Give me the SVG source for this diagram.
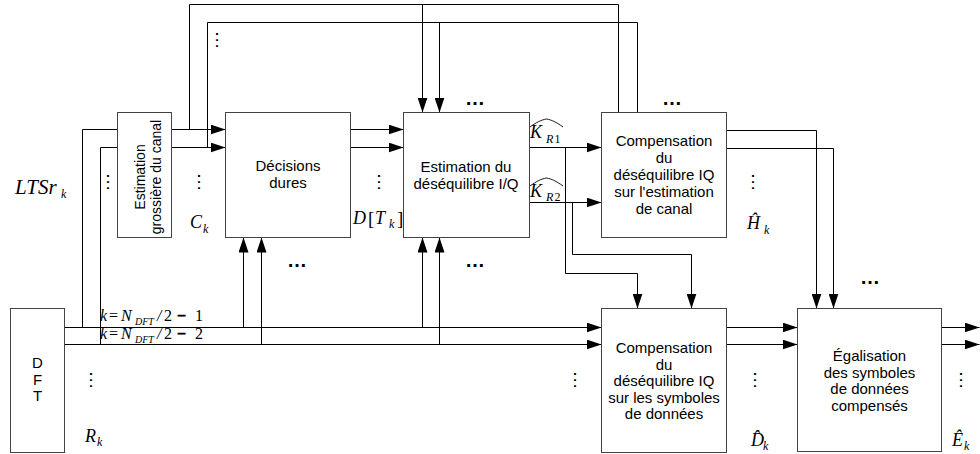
<svg xmlns="http://www.w3.org/2000/svg" width="980" height="454" viewBox="0 0 980 454">
<defs>
<style>
.box{fill:#fff;stroke:#444;stroke-width:1}
.ln{fill:none;stroke:#000;stroke-width:1}
.arr{marker-end:url(#ah)}
.t{font-family:"Liberation Sans",Arial,sans-serif;font-size:15px;fill:#000;text-anchor:middle}
.tr{font-family:"Liberation Sans",Arial,sans-serif;font-size:14px;fill:#000;text-anchor:middle}
.m{font-family:"Liberation Serif","Times New Roman",serif;font-style:italic;font-size:18px;fill:#000}
.ms{font-family:"Liberation Serif","Times New Roman",serif;font-style:italic;font-size:12px;fill:#000}
.mu{font-family:"Liberation Serif","Times New Roman",serif;font-style:normal;fill:#000}
.hd{font-family:"Liberation Sans",Arial,sans-serif;font-size:20px;font-weight:bold;fill:#000;text-anchor:middle}
.vd{font-family:"Liberation Sans",Arial,sans-serif;font-size:19px;fill:#000;text-anchor:middle}
.hat{fill:none;stroke:#000;stroke-width:0.9}
.minus{font-style:normal;font-weight:bold;stroke:#000;stroke-width:0.5}
</style>
<marker id="ah" markerWidth="15" markerHeight="10" refX="15" refY="5" orient="auto" markerUnits="userSpaceOnUse">
<path d="M0,0 L15,5 L0,10 z" fill="#000"/>
</marker>
</defs>
<rect width="980" height="454" fill="#fff"/>

<g id="connectors" transform="translate(0.5,0.5)">
<path class="ln" d="M618,112 V4 H189 V129"/>
<path class="ln arr" d="M422,4 V112"/>
<path class="ln" d="M637,112 V22 H207 V147"/>
<path class="ln arr" d="M439,22 V112"/>
<path class="ln arr" d="M171,129 H225"/>
<path class="ln arr" d="M171,147 H225"/>
<path class="ln" d="M82,327 V129 H117"/>
<path class="ln" d="M100,344 V147 H117"/>
<path class="ln arr" d="M64,327 H601"/>
<path class="ln arr" d="M64,344 H601"/>
<path class="ln arr" d="M243,327 V237"/>
<path class="ln arr" d="M261,344 V237"/>
<path class="ln arr" d="M422,327 V237"/>
<path class="ln arr" d="M439,344 V237"/>
<path class="ln arr" d="M350,129 H403"/>
<path class="ln arr" d="M350,147 H403"/>
<path class="ln arr" d="M529,147 H601"/>
<path class="ln arr" d="M529,202 H601"/>
<path class="ln arr" d="M565,147 V273 H637 V308"/>
<path class="ln arr" d="M572,202 V254 H691 V308"/>
<path class="ln arr" d="M726,130 H816 V308"/>
<path class="ln arr" d="M726,148 H833 V308"/>
<path class="ln arr" d="M726,327 H797"/>
<path class="ln arr" d="M726,344 H797"/>
<path class="ln arr" d="M941,327 H979"/>
<path class="ln arr" d="M941,344 H979"/>
</g>

<g id="node-grossiere">
<rect class="box" x="117.5" y="112.5" width="54" height="125"/>
<g transform="translate(0,177) rotate(-90)">
<text class="tr" x="0" y="145">Estimation</text>
<text class="tr" x="0" y="161">grossière du canal</text>
</g>
</g>

<g id="node-decisions">
<rect class="box" x="225.5" y="112.5" width="125" height="125"/>
<text class="t" x="288" y="171">Décisions</text>
<text class="t" x="288" y="188">dures</text>
</g>

<g id="node-estimation-iq">
<rect class="box" x="403.5" y="112.5" width="126" height="125"/>
<text class="t" x="466" y="172">Estimation du</text>
<text class="t" x="466" y="189">déséquilibre I/Q</text>
</g>

<g id="node-comp-canal">
<rect class="box" x="601.5" y="112.5" width="125" height="125"/>
<text class="t" x="664" y="146">Compensation</text>
<text class="t" x="664" y="163">du</text>
<text class="t" x="664" y="180">déséquilibre IQ</text>
<text class="t" x="664" y="197">sur l'estimation</text>
<text class="t" x="664" y="214">de canal</text>
</g>

<g id="node-dft">
<rect class="box" x="10.5" y="308.5" width="54" height="144"/>
<text class="t" x="37.5" y="368">D</text>
<text class="t" x="37.5" y="384.5">F</text>
<text class="t" x="37.5" y="401">T</text>
</g>

<g id="node-comp-donnees">
<rect class="box" x="601.5" y="308.5" width="125" height="144"/>
<text class="t" x="664" y="353">Compensation</text>
<text class="t" x="664" y="369.5">du</text>
<text class="t" x="664" y="386">déséquilibre IQ</text>
<text class="t" x="664" y="402.5">sur les symboles</text>
<text class="t" x="664" y="419">de données</text>
</g>

<g id="node-egalisation">
<rect class="box" x="797.5" y="308.5" width="144" height="143"/>
<text class="t" x="869.5" y="361">Égalisation</text>
<text class="t" x="869.5" y="377.5">des symboles</text>
<text class="t" x="869.5" y="394">de données</text>
<text class="t" x="869.5" y="410.5">compensés</text>
</g>

<g id="labels">
<text class="m" x="15" y="194" style="font-size:21px">LTSr</text>
<text class="ms" x="61" y="198">k</text>
<text class="m" x="190" y="228">C</text>
<text class="ms" x="203" y="233">k</text>
<text class="m" x="353" y="224">D</text>
<text class="mu" x="368" y="225" style="font-size:19px">[</text>
<text class="m" x="375" y="224">T</text>
<text class="ms" x="389" y="228">k</text>
<text class="mu" x="397" y="225" style="font-size:19px">]</text>

<path class="hat" d="M530,127 C537,122 541,120 546.5,119 C552,120 556,122 563,127"/>
<text class="m" x="530" y="138">K</text>
<text class="ms" x="546" y="143">R</text>
<text class="mu" x="554.5" y="143" style="font-size:12px">1</text>

<path class="hat" d="M530,186 C537,181 541,179 546.5,178 C552,179 556,181 563,186"/>
<text class="m" x="530" y="197">K</text>
<text class="ms" x="546" y="201">R</text>
<text class="mu" x="554.5" y="201" style="font-size:12px">2</text>

<text class="m" x="747" y="229">Ĥ</text>
<text class="ms" x="764" y="234">k</text>

<text class="m" x="85" y="442">R</text>
<text class="ms" x="97" y="446">k</text>

<text class="m" x="751" y="446">D̂</text>
<text class="ms" x="763" y="450">k</text>

<text class="m" x="952" y="446">Ê</text>
<text class="ms" x="964" y="450">k</text>

<text class="m" style="font-size:16px" y="321"><tspan x="100">k</tspan><tspan x="109" font-style="normal">=</tspan><tspan x="121">N</tspan></text>
<text class="ms" style="font-size:10px" x="135" y="325">DFT</text>
<text class="m" style="font-size:16px" y="321"><tspan x="157">/</tspan><tspan x="164" font-style="normal">2</tspan><tspan x="177" class="minus">−</tspan><tspan x="195" font-style="normal">1</tspan></text>

<text class="m" style="font-size:16px" y="339"><tspan x="100">k</tspan><tspan x="109" font-style="normal">=</tspan><tspan x="121">N</tspan></text>
<text class="ms" style="font-size:10px" x="135" y="343">DFT</text>
<text class="m" style="font-size:16px" y="339"><tspan x="157">/</tspan><tspan x="164" font-style="normal">2</tspan><tspan x="177" class="minus">−</tspan><tspan x="195" font-style="normal">2</tspan></text>
</g>

<g id="ellipses">
<text class="hd" x="475" y="105">…</text>
<text class="hd" x="672" y="105">…</text>
<text class="hd" x="297" y="267">…</text>
<text class="hd" x="475" y="267">…</text>
<text class="hd" x="870" y="284">…</text>
<text class="vd" transform="translate(216,40) rotate(90)">…</text>
<text class="vd" transform="translate(107,182) rotate(90)">…</text>
<text class="vd" transform="translate(198,182) rotate(90)">…</text>
<text class="vd" transform="translate(378,182) rotate(90)">…</text>
<text class="vd" transform="translate(752,182) rotate(90)">…</text>
<text class="vd" transform="translate(90,380) rotate(90)">…</text>
<text class="vd" transform="translate(574,380) rotate(90)">…</text>
<text class="vd" transform="translate(754,380) rotate(90)">…</text>
<text class="vd" transform="translate(960,380) rotate(90)">…</text>
</g>
</svg>
